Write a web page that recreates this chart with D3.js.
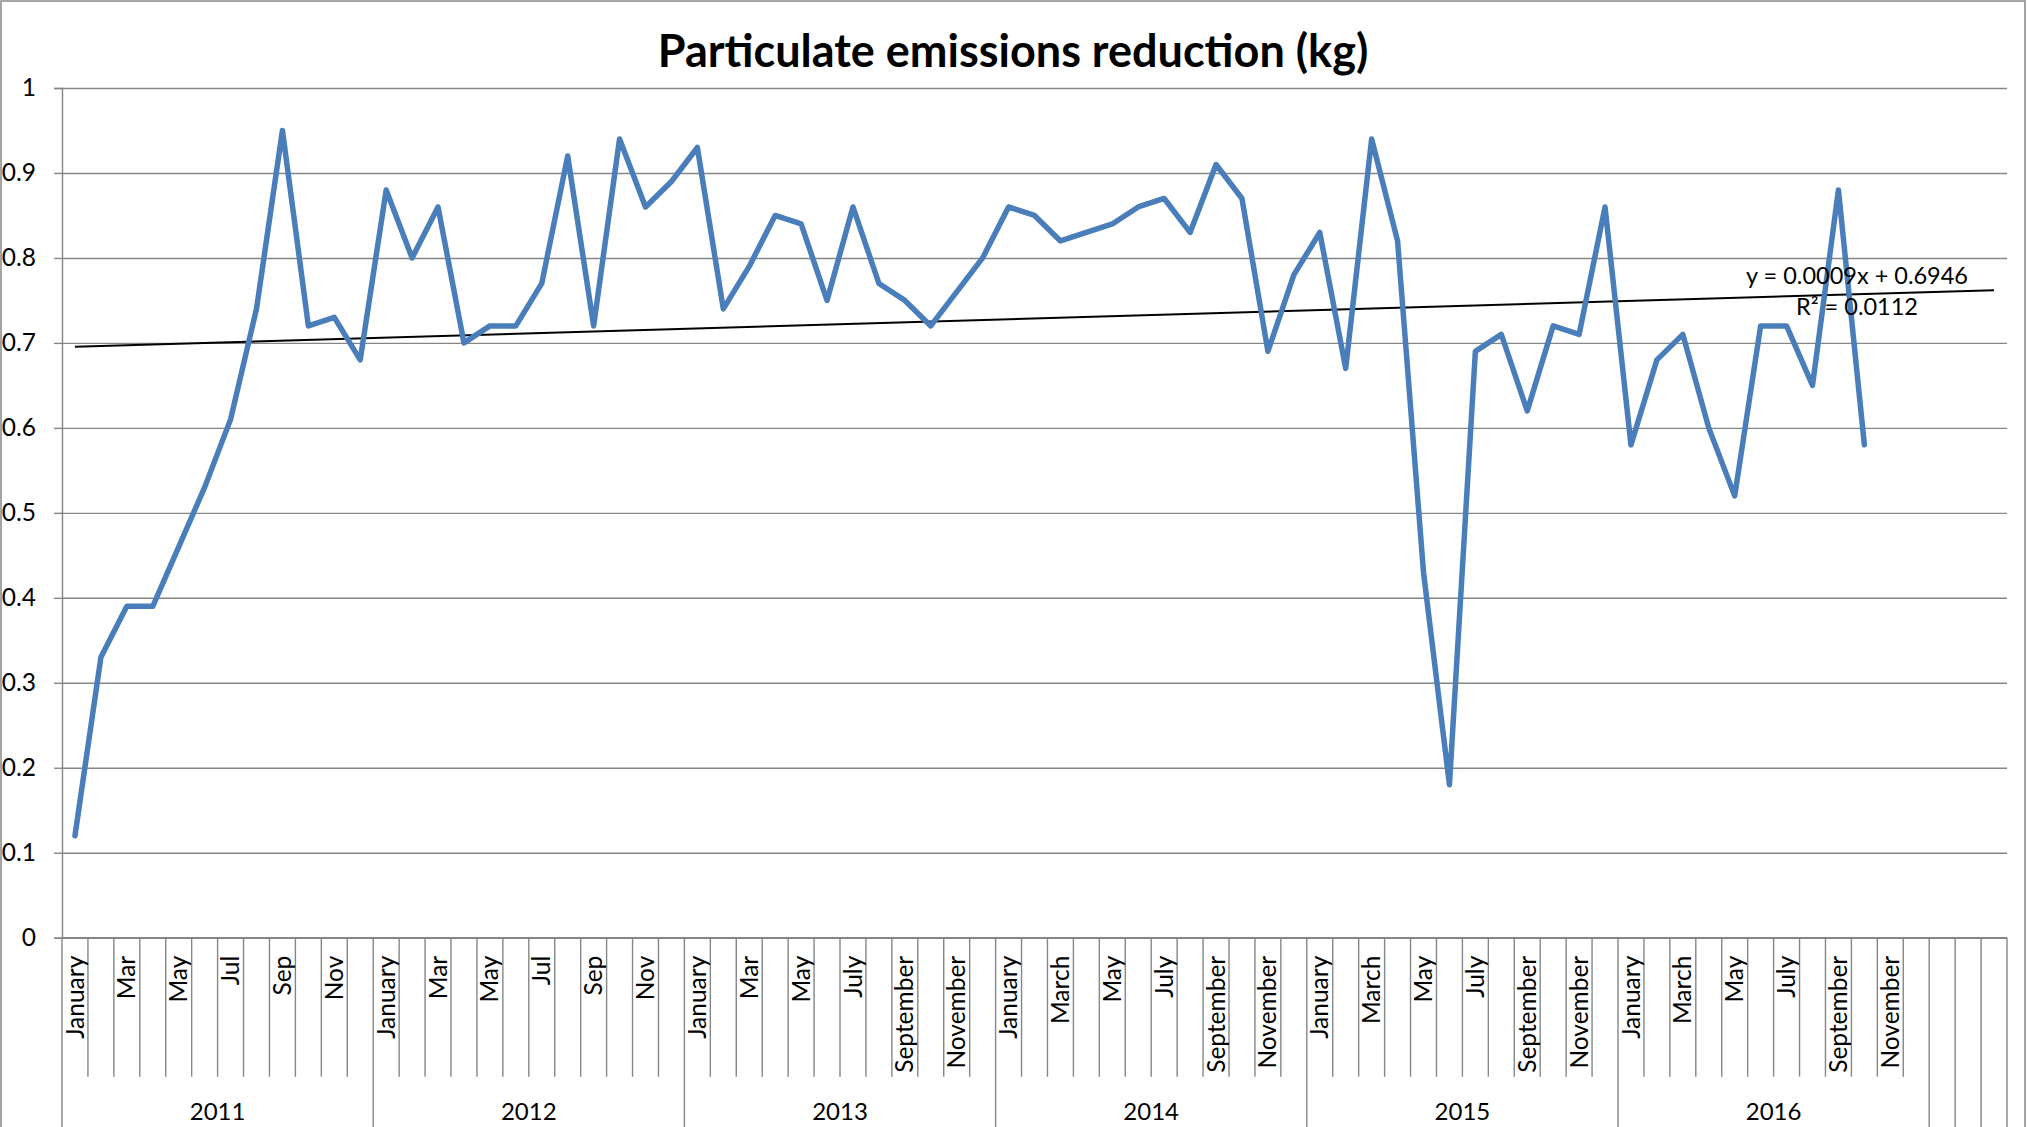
<!DOCTYPE html>
<html lang="en">
<head>
<meta charset="UTF-8">
<title>Particulate emissions reduction (kg)</title>
<script src="https://cdn.jsdelivr.net/npm/d3@7"></script>
<style>
  body { margin: 0; background: #fff; }
  text { font-family: Lato, "Open Sans", sans-serif; fill: #000; }
</style>
</head>
<body>
<script>
  var width = 2027, height = 1127;
  var plot = { left: 62, right: 2007, top: 88, bottom: 937.7 };

  // category labels (two-level axis: month under year)
  var years = ["2011", "2012", "2013", "2014", "2015", "2016"];
  var monthsShort = ["January", "Feb", "Mar", "Apr", "May", "Jun", "Jul", "Aug", "Sep", "Oct", "Nov", "Dec"];
  var months2013 = ["January", "Feb", "Mar", "Apr", "May", "Jun", "July", "August", "September", "October", "November", "December"];
  var monthsLong = ["January", "February", "March", "April", "May", "June", "July", "August", "September", "October", "November", "December"];
  var yearMonths = [monthsShort, monthsShort, months2013, monthsLong, monthsLong, monthsLong];
  var emptyCategories = 3;

  // monthly values (kg)
  var values2011 = [0.12, 0.33, 0.39, 0.39, 0.46, 0.53, 0.61, 0.74, 0.95, 0.72, 0.73, 0.68];
  var values2012 = [0.88, 0.80, 0.86, 0.70, 0.72, 0.72, 0.77, 0.92, 0.72, 0.94, 0.86, 0.89];
  var values2013 = [0.93, 0.74, 0.79, 0.85, 0.84, 0.75, 0.86, 0.77, 0.75, 0.72, 0.76, 0.80];
  var values2014 = [0.86, 0.85, 0.82, 0.83, 0.84, 0.86, 0.87, 0.83, 0.91, 0.87, 0.69, 0.78];
  var values2015 = [0.83, 0.67, 0.94, 0.82, 0.43, 0.18, 0.69, 0.71, 0.62, 0.72, 0.71, 0.86];
  var values2016 = [0.58, 0.68, 0.71, 0.60, 0.52, 0.72, 0.72, 0.65, 0.88, 0.58];

  var yTicks = [0, 0.1, 0.2, 0.3, 0.4, 0.5, 0.6, 0.7, 0.8, 0.9, 1];

  // linear trendline as shown on the chart
  var trendSlope = 0.0009, trendIntercept = 0.6946;
  var trendText = ["y = 0.0009x + 0.6946", "R\u00b2 = 0.0112"];

  var series = [].concat(values2011, values2012, values2013, values2014, values2015, values2016);

  var categories = [];
  years.forEach(function (yr, yi) {
    yearMonths[yi].forEach(function (m, mi) {
      categories.push({ key: yr + "-" + mi, year: yr, month: m, idx: mi });
    });
  });
  for (var k = 0; k < emptyCategories; k++) {
    categories.push({ key: "blank-" + k, year: "", month: "", idx: -1 });
  }

  var x = d3.scaleBand()
    .domain(categories.map(function (d) { return d.key; }))
    .range([plot.left, plot.right]);
  var y = d3.scaleLinear().domain([0, 1]).range([plot.bottom, plot.top]);
  var cx = function (i) { return x(categories[i].key) + x.bandwidth() / 2; };

  var gridColor = "#868686";

  var svg = d3.select("body").append("svg")
    .attr("width", width)
    .attr("height", height);

  // chart frame
  svg.append("rect")
    .attr("x", 1).attr("y", 1)
    .attr("width", width - 3).attr("height", height + 20)
    .attr("fill", "none")
    .attr("stroke", gridColor)
    .attr("stroke-width", 1.5);

  svg.append("text")
    .attr("x", 1013).attr("y", 67)
    .attr("text-anchor", "middle")
    .style("font-size", "45px")
    .style("font-weight", "bold")
    .text("Particulate emissions reduction (kg)");

  // gridlines
  svg.append("g")
    .attr("transform", "translate(" + plot.left + ",0)")
    .call(d3.axisLeft(y).tickValues(yTicks).tickSize(-(plot.right - plot.left)).tickFormat(""))
    .call(function (g) {
      g.select(".domain").remove();
      g.selectAll("line").attr("stroke", gridColor).attr("stroke-width", 1.4);
    });

  // value axis with labels
  svg.append("g")
    .attr("transform", "translate(" + plot.left + ",0)")
    .call(d3.axisLeft(y).tickValues(yTicks).tickSize(8).tickPadding(18).tickFormat(function (d) { return String(d); }))
    .call(function (g) {
      g.select(".domain").attr("stroke", gridColor).attr("stroke-width", 1.4);
      g.selectAll("line").attr("stroke", gridColor).attr("stroke-width", 1.4);
      g.selectAll("text").style("font-size", "24.5px").attr("fill", "#000");
    });

  // category axis: boundaries between months, full-height lines between groups
  var catAxis = svg.append("g");
  var shortTick = 139;
  var bounds = categories.map(function (c) {
    return { x: x(c.key), full: c.idx <= 0 };
  });
  bounds.push({ x: plot.right, full: true });

  catAxis.selectAll("line.b")
    .data(bounds)
    .enter().append("line")
    .attr("class", "b")
    .attr("x1", function (d) { return d.x; })
    .attr("x2", function (d) { return d.x; })
    .attr("y1", plot.bottom)
    .attr("y2", function (d) { return d.full ? height + 5 : plot.bottom + shortTick; })
    .attr("stroke", gridColor)
    .attr("stroke-width", 1.4);

  catAxis.append("line")
    .attr("x1", plot.left).attr("x2", plot.right)
    .attr("y1", plot.bottom).attr("y2", plot.bottom)
    .attr("stroke", gridColor)
    .attr("stroke-width", 1.4);

  catAxis.selectAll("text.month")
    .data(categories.filter(function (c) { return c.idx >= 0 && c.idx % 2 === 0; }))
    .enter().append("text")
    .attr("class", "month")
    .attr("transform", function (d) {
      return "translate(" + (x(d.key) + x.bandwidth() / 2) + "," + (plot.bottom + 18) + ") rotate(-90)";
    })
    .attr("dy", "0.35em")
    .attr("text-anchor", "end")
    .style("font-size", "24.5px")
    .text(function (d) { return d.month; });

  catAxis.selectAll("text.year")
    .data(years)
    .enter().append("text")
    .attr("class", "year")
    .attr("x", function (yr) {
      var a = x(yr + "-0"), b = x(yr + "-11") + x.bandwidth();
      return (a + b) / 2;
    })
    .attr("y", 1120)
    .attr("text-anchor", "middle")
    .style("font-size", "24px")
    .text(function (d) { return d; });

  // trendline over all categories
  var trendPts = [1, categories.length];
  svg.append("path")
    .datum(trendPts)
    .attr("fill", "none")
    .attr("stroke", "#000")
    .attr("stroke-width", 2)
    .attr("d", d3.line()
      .x(function (n) { return cx(n - 1); })
      .y(function (n) { return y(trendIntercept + trendSlope * n); }));

  // data series
  svg.append("path")
    .datum(series)
    .attr("fill", "none")
    .attr("stroke", "#4a7ebb")
    .attr("stroke-width", 5.5)
    .attr("stroke-linejoin", "round")
    .attr("stroke-linecap", "round")
    .attr("d", d3.line()
      .x(function (d, i) { return cx(i); })
      .y(function (d) { return y(d); }));

  // trendline label
  svg.append("g").selectAll("text")
    .data(trendText)
    .enter().append("text")
    .attr("x", 1857)
    .attr("y", function (d, i) { return 284 + i * 31; })
    .attr("text-anchor", "middle")
    .style("font-size", "23.5px")
    .text(function (d) { return d; });
</script>
</body>
</html>
